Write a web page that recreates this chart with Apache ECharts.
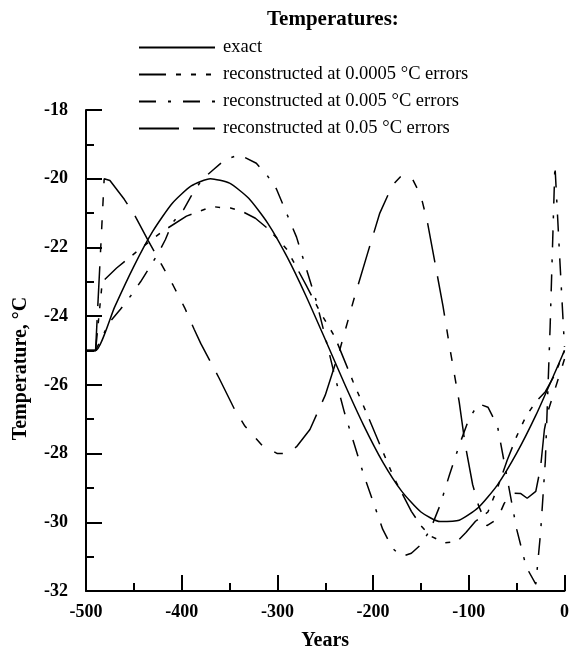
<!DOCTYPE html>
<html>
<head>
<meta charset="utf-8">
<script src="https://cdn.jsdelivr.net/npm/echarts@6/dist/echarts.min.js"></script>
<style>
  html, body { margin: 0; padding: 0; background: #fff; }
  #chart { width: 572px; height: 656px; }
</style>
</head>
<body>
<div id="chart"></div>
<script>
// exact temperature history
const exactYears = [-500, -490, -470, -450, -430, -410, -390, -370, -350, -330, -310, -290, -270, -250, -230, -210, -190, -170, -150, -130, -110, -90, -70, -50, -30, -10, 0]
const exactTemps = [-25, -25, -23.73, -22.55, -21.52, -20.72, -20.21, -20.0, -20.13, -20.57, -21.3, -22.27, -23.42, -24.68, -25.96, -27.17, -28.24, -29.1, -29.7, -29.98, -29.94, -29.57, -28.91, -27.99, -26.89, -25.64, -25]

// reconstructed at 0.0005 °C errors
const recAYears = [-500, -490, -483, -468, -446, -421, -395, -368, -356, -349, -337, -323, -311, -299, -290, -270, -255, -240, -221, -205, -192, -178, -160, -150, -140, -125, -112, -103, -93, -80, -70, -60, -50, -40, -30, -20, -10, 0]
const recATemps = [-25, -25, -23.0, -22.6, -22.1, -21.55, -21.09, -20.81, -20.85, -20.85, -20.95, -21.15, -21.43, -21.77, -22.06, -23.1, -23.9, -24.6, -25.9, -26.94, -27.8, -28.72, -29.68, -30.1, -30.4, -30.6, -30.55, -30.3, -29.97, -29.7, -29.0, -28.2, -27.5, -26.9, -26.5, -26.2, -25.7, -25.0]

// reconstructed at 0.005 °C errors
const recBYears = [-500, -490, -476, -464, -453, -443, -434, -424, -417, -410, -398, -390, -379, -367, -355, -340, -322, -310, -301, -289, -280, -270, -260, -250, -240, -230, -220, -210, -200, -190, -180, -170, -160, -150, -140, -130, -120, -110, -100, -90, -80, -70, -60, -50, -40, -30, -25, -20, -15, -10, -5, 0]
const recBTemps = [-25, -25, -24.2, -23.8, -23.4, -23.0, -22.6, -22.15, -21.77, -21.3, -20.9, -20.5, -20.03, -19.74, -19.45, -19.3, -19.55, -19.93, -20.3, -21.1, -21.7, -22.6, -23.5, -24.6, -25.75, -26.8, -27.7, -28.6, -29.4, -30.2, -30.75, -31.0, -30.9, -30.65, -30.2, -29.5, -28.6, -27.76, -27.0, -26.55, -26.65, -27.2, -28.7, -30.2, -31.3, -31.8, -30.3, -28.2, -24.3, -19.6, -22.3, -24.9]

// reconstructed at 0.05 °C errors
const recCYears = [-500, -490, -481, -475, -460, -449, -435, -421, -409, -397, -387, -380, -361, -345, -334, -316, -300, -290, -280, -266, -250, -235, -220, -205, -193, -180, -170, -159, -150, -143, -135, -127, -120, -110, -104, -96, -90, -81, -70, -63, -55, -46, -39, -30, -25, -21, -17, 0]
const recCTemps = [-25, -25, -20, -20.05, -20.6, -21.07, -21.8, -22.5, -23.1, -23.75, -24.38, -24.8, -25.8, -26.7, -27.2, -27.76, -28.0, -28.0, -27.8, -27.3, -26.3, -25.0, -23.5, -22.1, -21.0, -20.2, -19.9, -20.0, -20.5, -21.3, -22.5, -23.7, -24.9, -26.5, -27.7, -28.9, -29.5, -30.1, -29.9, -29.45, -29.15, -29.16, -29.3, -29.1, -28.4, -27.3, -26.75, -25.25]

const seriesNames = ['exact', 'reconstructed at 0.0005 °C errors', 'reconstructed at 0.005 °C errors', 'reconstructed at 0.05 °C errors']

const pairs = (xs, ys) => xs.map((x, i) => [x, ys[i]])
const serif = 'Liberation Serif'

const chart = echarts.init(document.getElementById('chart'))

const lineSeries = (name, data, dash, smooth) => ({
  name: name,
  type: 'line',
  data: data,
  symbol: 'none',
  smooth: smooth,
  animation: false,
  itemStyle: { color: '#000' },
  lineStyle: { color: '#000', width: 1.5, type: dash }
})

chart.setOption({
  backgroundColor: '#fff',
  title: {
    text: 'Temperatures:',
    left: 262,
    top: 4,
    textStyle: { fontFamily: serif, fontWeight: 'bold', fontSize: 21, color: '#000' }
  },
  legend: {
    orient: 'vertical',
    left: 133,
    top: 33,
    itemWidth: 76,
    itemHeight: 14,
    itemGap: 8,
    data: seriesNames,
    itemStyle: { opacity: 0 },
    textStyle: { fontFamily: serif, fontSize: 18.5, lineHeight: 16, color: '#000', padding: [0, 0, 0, 3] }
  },
  grid: { left: 86, right: 4, top: 110, bottom: 62 },
  xAxis: {
    type: 'value',
    min: -500,
    max: 0,
    interval: 100,
    name: 'Years',
    nameLocation: 'middle',
    nameGap: 40,
    nameTextStyle: { fontFamily: serif, fontWeight: 'bold', fontSize: 20, color: '#000' },
    axisLine: { onZero: false, lineStyle: { color: '#000', width: 2 } },
    axisTick: { inside: true, length: 16, lineStyle: { color: '#000', width: 2 } },
    minorTick: { show: true, splitNumber: 2, length: 8, lineStyle: { color: '#000', width: 2 } },
    splitLine: { show: false },
    axisLabel: { fontFamily: serif, fontWeight: 'bold', fontSize: 18, color: '#000', margin: 12 }
  },
  yAxis: {
    type: 'value',
    min: -32,
    max: -18,
    interval: 2,
    name: 'Temperature, °C',
    nameLocation: 'middle',
    nameRotate: 90,
    nameGap: 55,
    nameTextStyle: { fontFamily: serif, fontWeight: 'bold', fontSize: 20, color: '#000', padding: [0, 36, 0, 0] },
    axisLine: { show: true, onZero: false, lineStyle: { color: '#000', width: 2 } },
    axisTick: { show: true, inside: true, length: 16, lineStyle: { color: '#000', width: 2 } },
    minorTick: { show: true, splitNumber: 2, length: 8, lineStyle: { color: '#000', width: 2 } },
    splitLine: { show: false },
    axisLabel: { fontFamily: serif, fontWeight: 'bold', fontSize: 18, color: '#000', margin: 18 }
  },
  series: [
    lineSeries(seriesNames[0], pairs(exactYears, exactTemps), 'solid', 0.2),
    lineSeries(seriesNames[1], pairs(recAYears, recATemps), [27, 10, 5, 10, 5, 10, 5, 10], false),
    lineSeries(seriesNames[2], pairs(recBYears, recBTemps), [17, 12, 3, 12], false),
    lineSeries(seriesNames[3], pairs(recCYears, recCTemps), [40, 14, 40, 14, 9, 14, 9, 14, 9, 14], false)
  ]
})
</script>
</body>
</html>
